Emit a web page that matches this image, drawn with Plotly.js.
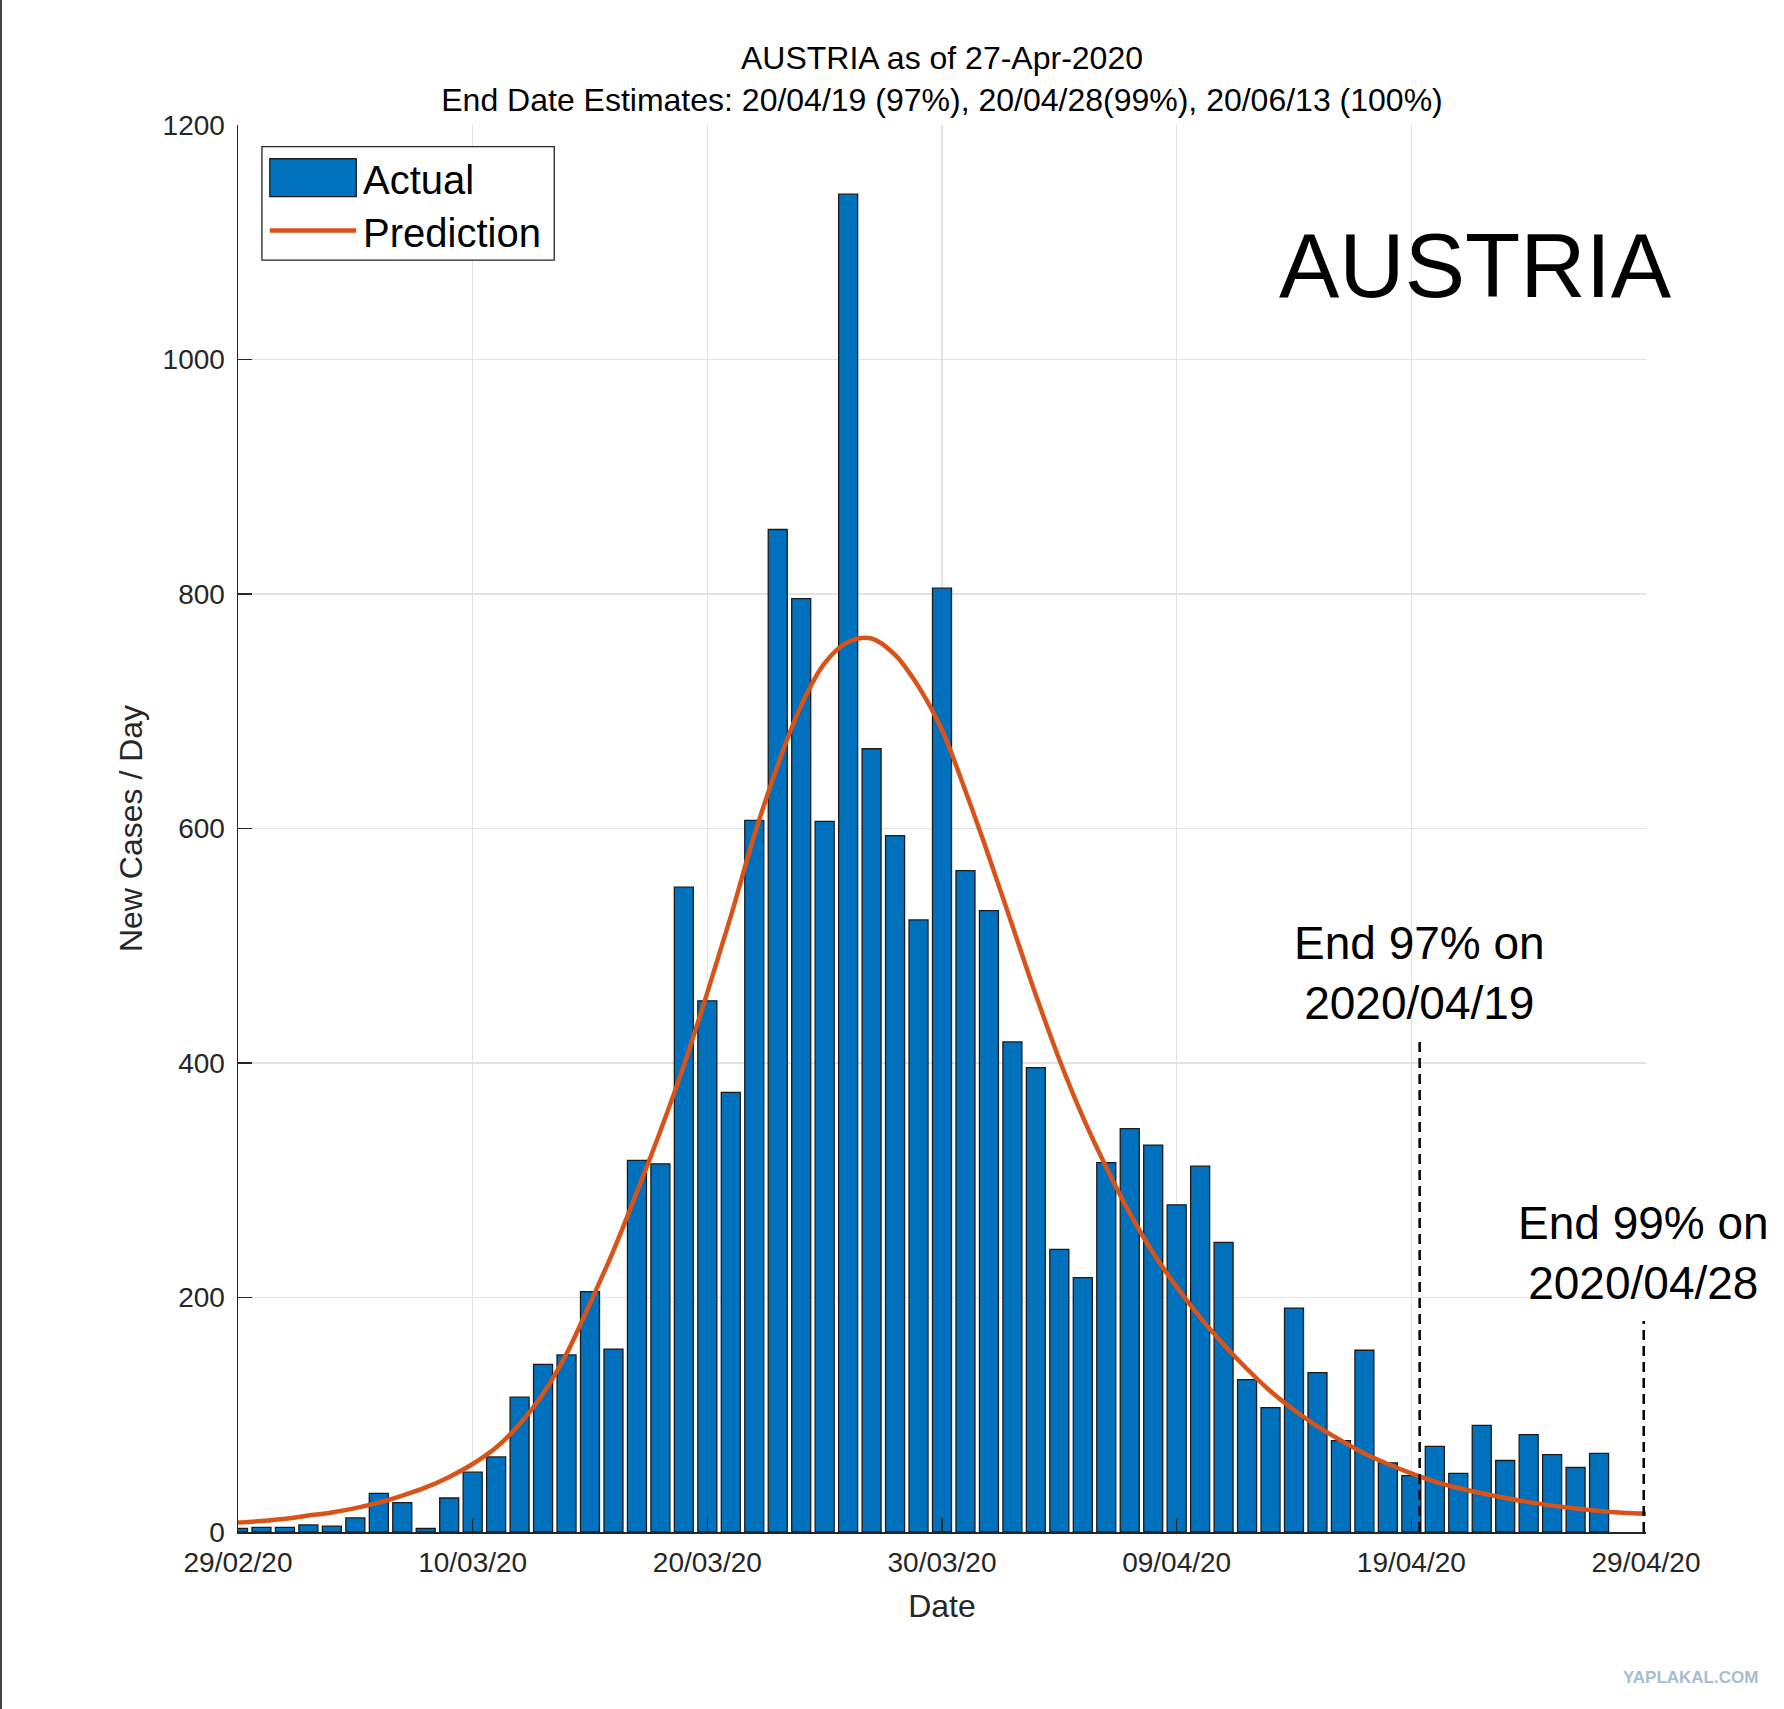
<!DOCTYPE html>
<html>
<head>
<meta charset="utf-8">
<script src="https://cdn.plot.ly/plotly-3.0.1.min.js"></script>
<style>
  html, body { margin: 0; padding: 0; background: #ffffff; }
  #chart { position: absolute; left: 0; top: 0; width: 1784px; height: 1709px; }
  #edge { position: absolute; left: 0; top: 0; width: 2px; height: 1709px; background: #444444; z-index: 5; }
</style>
</head>
<body>
<div id="chart"></div>
<div id="edge"></div>
<script>
// ---- Data ----
const actualDates = [
  '2020-02-29',
  '2020-03-01','2020-03-02','2020-03-03','2020-03-04','2020-03-05','2020-03-06','2020-03-07','2020-03-08','2020-03-09','2020-03-10',
  '2020-03-11','2020-03-12','2020-03-13','2020-03-14','2020-03-15','2020-03-16','2020-03-17','2020-03-18','2020-03-19','2020-03-20',
  '2020-03-21','2020-03-22','2020-03-23','2020-03-24','2020-03-25','2020-03-26','2020-03-27','2020-03-28','2020-03-29','2020-03-30','2020-03-31',
  '2020-04-01','2020-04-02','2020-04-03','2020-04-04','2020-04-05','2020-04-06','2020-04-07','2020-04-08','2020-04-09','2020-04-10',
  '2020-04-11','2020-04-12','2020-04-13','2020-04-14','2020-04-15','2020-04-16','2020-04-17','2020-04-18','2020-04-19','2020-04-20',
  '2020-04-21','2020-04-22','2020-04-23','2020-04-24','2020-04-25','2020-04-26','2020-04-27'
];
const actualCases = [
  3, 4, 4, 6, 5, 12, 33, 25, 3, 29,
  51, 64, 115, 143, 151, 205, 156, 317, 314, 550,
  453, 375, 607, 855, 796, 606, 1141, 668, 594, 522,
  805, 564, 530, 418, 396, 241, 217, 315, 344, 330,
  279, 312, 247, 130, 106, 191, 136, 78, 155, 59,
  48, 73, 50, 91, 61, 83, 66, 55, 67
];
const predictionDates = actualDates.concat(['2020-04-28', '2020-04-29']);
const predictionCases = [
  8, 9.4, 11.3, 14, 16.7, 20.4, 25, 31, 38, 47,
  58, 72, 92, 118, 152, 195, 240, 290, 342, 398,
  460, 525, 594, 654, 705, 741, 759, 762, 748, 721,
  684, 632, 576, 517, 458, 403, 354, 311, 272, 238,
  209, 183, 160, 139, 120, 104, 90, 78, 67, 58,
  50, 43, 37.5, 33, 29, 25.5, 22.5, 20, 18, 16.5,
  15.5
];
const endLabels = ['End 97% on<br>2020/04/19', 'End 99% on<br>2020/04/28'];
const endDates = ['2020-04-19 08:30', '2020-04-28 21:40'];
const endLineTops = [420, 180];
const endLabelLevels = [477, 238];
const xTickDates = ['2020-02-29', '2020-03-10', '2020-03-20', '2020-03-30', '2020-04-09', '2020-04-19', '2020-04-29'];
const xTickLabels = ['29/02/20', '10/03/20', '20/03/20', '30/03/20', '09/04/20', '19/04/20', '29/04/20'];
const yTickValues = [0, 200, 400, 600, 800, 1000, 1200];
const seriesNames = ['Actual', 'Prediction'];

// ---- Styles ----
const FONT = 'Liberation Sans, Arial, Helvetica, sans-serif';
const BAR_BLUE = '#0072BD';
const LINE_ORANGE = '#D95319';
const AXIS_GRAY = '#262626';
const GRID = '#e3e3e3';
const DAY_MS = 86400000;

const traces = [
  {
    type: 'bar',
    name: seriesNames[0],
    x: actualDates,
    y: actualCases,
    width: 0.81 * DAY_MS,
    marker: { color: BAR_BLUE, line: { color: '#1b1b1b', width: 1.3 } },
    hoverinfo: 'x+y'
  },
  {
    type: 'scatter',
    mode: 'lines',
    name: seriesNames[1],
    x: predictionDates,
    y: predictionCases,
    line: { color: LINE_ORANGE, width: 4.5, shape: 'spline', smoothing: 1, simplify: false },
    hoverinfo: 'x+y'
  }
];

const shapes = endDates.map((d, i) => ({
  type: 'line', xref: 'x', yref: 'y',
  x0: d, x1: d, y0: 0, y1: endLineTops[i],
  line: { color: '#000000', width: 2.5, dash: '10px,6px' },
  layer: 'above'
}));

// Legend drawn to match the reference's large swatches
shapes.push(
  { type: 'rect', xref: 'paper', yref: 'paper', x0: 0.0170, x1: 0.2246, y0: 0.9039, y1: 0.9847,
    line: { color: '#262626', width: 1.3 }, fillcolor: '#ffffff', layer: 'above' },
  { type: 'rect', xref: 'paper', yref: 'paper', x0: 0.0226, x1: 0.0840, y0: 0.9491, y1: 0.9760,
    line: { color: '#1b1b1b', width: 1.3 }, fillcolor: BAR_BLUE, layer: 'above' },
  { type: 'line', xref: 'paper', yref: 'paper', x0: 0.0226, x1: 0.0840, y0: 0.9251, y1: 0.9251,
    line: { color: LINE_ORANGE, width: 4.5 }, layer: 'above' }
);

const annotations = endDates.map((d, i) => ({
  xref: 'x', yref: 'y', x: d, y: endLabelLevels[i],
  text: endLabels[i], showarrow: false, xanchor: 'center', yanchor: 'middle',
  font: { family: FONT, size: 46, color: '#000000' }
}));
annotations.push(
  { xref: 'paper', yref: 'paper', x: 0.0876, y: 0.9611, text: seriesNames[0], showarrow: false,
    xanchor: 'left', yanchor: 'middle', font: { family: FONT, size: 40, color: '#000000' } },
  { xref: 'paper', yref: 'paper', x: 0.0876, y: 0.9230, text: seriesNames[1], showarrow: false,
    xanchor: 'left', yanchor: 'middle', font: { family: FONT, size: 40, color: '#000000' } },
  { xref: 'paper', yref: 'paper', x: 0.8792, y: 0.9004, text: 'AUSTRIA', showarrow: false,
    xanchor: 'center', yanchor: 'middle', font: { family: FONT, size: 90.5, color: '#000000' } },
  { xref: 'paper', yref: 'paper', x: 1.0315, y: -0.1034, text: '<b>YAPLAKAL.COM</b>', showarrow: false,
    xanchor: 'center', yanchor: 'middle', font: { family: FONT, size: 17, color: '#a6bdd2' } }
);

const layout = {
  width: 1784,
  height: 1709,
  margin: { l: 238, r: 138, t: 125, b: 177 },
  paper_bgcolor: '#ffffff',
  plot_bgcolor: '#ffffff',
  showlegend: false,
  bargap: 0.19,
  title: {
    text: 'AUSTRIA as of 27-Apr-2020<br>End Date Estimates: 20/04/19 (97%), 20/04/28(99%), 20/06/13 (100%)',
    font: { family: FONT, size: 32, color: '#000000' },
    xref: 'paper', x: 0.5, xanchor: 'center',
    yref: 'container', y: 0.9596, yanchor: 'middle'
  },
  xaxis: {
    type: 'date',
    range: ['2020-02-29', '2020-04-29'],
    tickmode: 'array',
    tickvals: xTickDates,
    ticktext: xTickLabels,
    showgrid: true, gridcolor: GRID, gridwidth: 1.2,
    showline: true, linecolor: AXIS_GRAY, linewidth: 1.5,
    ticks: 'inside', ticklen: 14, tickwidth: 1.3, tickcolor: AXIS_GRAY,
    ticklabelstandoff: 5,
    tickfont: { family: FONT, size: 28, color: AXIS_GRAY },
    zeroline: false,
    title: { text: 'Date', font: { family: FONT, size: 32, color: AXIS_GRAY }, standoff: 17 },
    automargin: false,
    fixedrange: true
  },
  yaxis: {
    range: [0, 1200],
    tickmode: 'array',
    tickvals: yTickValues,
    ticktext: yTickValues.map(String),
    showgrid: true, gridcolor: GRID, gridwidth: 1.2,
    showline: true, linecolor: AXIS_GRAY, linewidth: 1.5,
    ticks: 'inside', ticklen: 14, tickwidth: 1.3, tickcolor: AXIS_GRAY,
    ticklabelstandoff: 6,
    tickfont: { family: FONT, size: 28, color: AXIS_GRAY },
    zeroline: false,
    title: { text: 'New Cases / Day', font: { family: FONT, size: 32, color: AXIS_GRAY }, standoff: 10 },
    automargin: false,
    fixedrange: true
  },
  shapes: shapes,
  annotations: annotations
};

Plotly.newPlot('chart', traces, layout, { displayModeBar: false, staticPlot: true });
</script>
</body>
</html>
